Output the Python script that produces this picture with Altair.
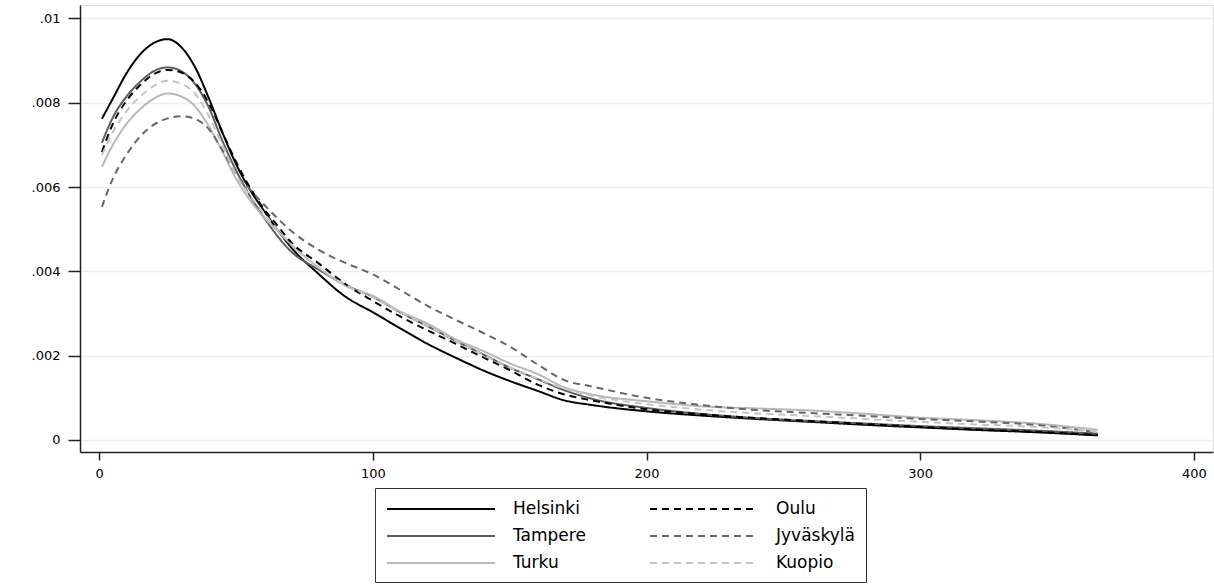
import altair as alt
import pandas as pd

days = [1, 5, 10, 15, 20, 25, 30, 35, 40, 45, 50, 55, 60, 65, 70, 80, 90, 100,
        110, 120, 130, 140, 150, 160, 170, 180, 200, 220, 240, 260, 280, 300,
        320, 340, 365]

helsinki = [.00762, .0081, .0087, .00915, .00942, .00951, .00932, .00885, .00812, .0073,
            .00655, .00595, .00546, .005, .00458, .00395, .0034, .00303,
            .00265, .00228, .00196, .00166, .0014, .00117, .00094, .00083, .00068, .00058,
            .0005, .00043, .00036, .0003, .00024, .00019, .00011]

tampere = [.00705, .00765, .00815, .0085, .00875, .00884, .00875, .00845, .0079, .0071,
           .0064, .0058, .0053, .00485, .00448, .00405, .00368, .0034,
           .00303, .0027, .00236, .00204, .00172, .00145, .00118, .00098, .00076, .00062,
           .00052, .00045, .00039, .00033, .00028, .00023, .00015]

turku = [.00648, .007, .0075, .00785, .0081, .00822, .00815, .00792, .00745, .00685,
         .0062, .0057, .0053, .00497, .00465, .0041, .00366, .00342,
         .00305, .00276, .0024, .00212, .00182, .00157, .00125, .00108, .00092, .0008,
         .00075, .0007, .00062, .00053, .00047, .0004, .00024]

oulu = [.00683, .0075, .00805, .00842, .00868, .00878, .00872, .00848, .008, .0073,
        .0066, .006, .0055, .0051, .0047, .0042, .0037, .0033,
        .00293, .0026, .00229, .00197, .00166, .00132, .00108, .00094, .00073, .00061,
        .00052, .00045, .00038, .00031, .00025, .0002, .00012]

jyvaskyla = [.00553, .0062, .00677, .0072, .00748, .00763, .00768, .00762, .00738, .00688,
             .00632, .00595, .0056, .00527, .00497, .00452, .0042, .00393,
             .00356, .00318, .00286, .00255, .00222, .0018, .00142, .00127, .001, .00083,
             .00071, .00064, .00057, .0005, .00044, .00037, .00018]

kuopio = [.00676, .0073, .0078, .00815, .0084, .00852, .00845, .00822, .0077, .007,
          .0063, .0058, .0054, .005, .00465, .0041, .00368, .00338,
          .00303, .0027, .00236, .00203, .00172, .00146, .00122, .00105, .00085, .00072,
          .00063, .00057, .0005, .00043, .00037, .00032, .0002]

# legend fills column by column: Helsinki/Tampere/Turku, then Oulu/Jyväskylä/Kuopio
cities = ["Helsinki", "Tampere", "Turku", "Oulu", "Jyväskylä", "Kuopio"]
series = {"Helsinki": helsinki, "Oulu": oulu, "Tampere": tampere,
          "Jyväskylä": jyvaskyla, "Turku": turku, "Kuopio": kuopio}
colors = ["#000000", "#5e5e5e", "#b8b8b8", "#000000", "#666666", "#c4c4c4"]
dashes = [[1, 0], [1, 0], [1, 0], [7, 5], [7, 5], [7, 5]]

x_ticks = [0, 100, 200, 300, 400]
y_ticks = [0, 0.002, 0.004, 0.006, 0.008, 0.01]

rows = []
for c in cities:
    for d, v in zip(days, series[c]):
        rows.append({"day": d, "density": v, "city": c})
df = pd.DataFrame(rows)

FONT = "DejaVu Sans"

legend_opts = dict(title=None, orient="none", legendX=295, legendY=483,
                   columns=2, symbolType="M-1,0H11", symbolSize=324,
                   symbolStrokeWidth=2, labelOffset=107,
                   labelFont=FONT, labelFontSize=17,
                   labelColor="#000", columnPadding=60,
                   rowPadding=9, padding=11,
                   strokeColor="#333")

chart = alt.Chart(df).mark_line(strokeWidth=2, interpolate="monotone").encode(
    x=alt.X("day:Q",
            scale=alt.Scale(domain=[-7, 407], nice=False, zero=False),
            axis=alt.Axis(values=x_ticks, title=None, grid=False, tickSize=8,
                          labelPadding=7, domainColor="#222", tickColor="#222",
                          domainWidth=1.5, tickWidth=1.5, labelFont=FONT,
                          labelFontSize=13, labelColor="#000")),
    y=alt.Y("density:Q",
            scale=alt.Scale(domain=[-0.000285, 0.01032], nice=False, zero=False),
            axis=alt.Axis(values=y_ticks, title=None, grid=True, gridColor="#e6eff1",
                          gridWidth=1.5, tickSize=12, labelPadding=8,
                          domainColor="#222", tickColor="#222", domainWidth=1.5,
                          tickWidth=1.5, labelFont=FONT, labelFontSize=13,
                          labelColor="#000",
                          labelExpr="datum.value == 0 ? '0' : substring(format(datum.value, '.3~f'), 1)")),
    color=alt.Color("city:N", sort=cities,
                    scale=alt.Scale(domain=cities, range=colors),
                    legend=alt.Legend(**legend_opts)),
    strokeDash=alt.StrokeDash("city:N", sort=cities,
                              scale=alt.Scale(domain=cities, range=dashes),
                              legend=alt.Legend(**legend_opts)),
    order=alt.Order("day:Q"),
).properties(
    width=1133, height=447,
    padding={"left": 80, "top": 5, "right": 1, "bottom": 132},
    autosize=alt.AutoSizeParams(type="none"),
).configure_view(stroke=None).configure(background="white")

chart.save("out.html", embed_options={"renderer": "svg", "actions": False})
